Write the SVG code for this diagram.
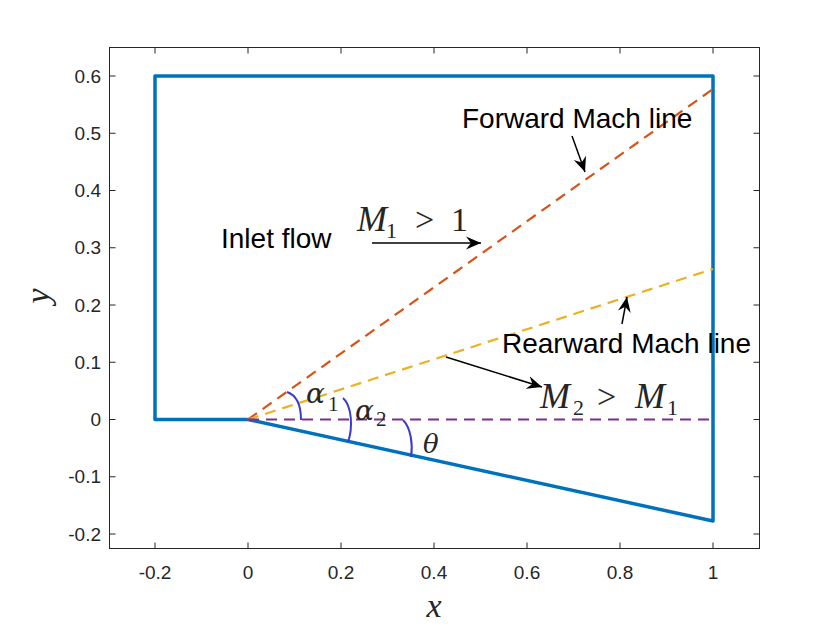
<svg xmlns="http://www.w3.org/2000/svg" width="840" height="630" viewBox="0 0 840 630">
<defs>
<style>
.ax{fill:none;stroke:#262626;stroke-width:1}
.tk{font-family:"Liberation Sans",Arial,sans-serif;font-size:19px;fill:#262626}
.lbl{font-family:"Liberation Sans",Arial,sans-serif;font-size:28px;fill:#000}
.mi{font-family:"Liberation Serif","Times New Roman",serif;font-style:italic;fill:#262626}
.gr{font-family:"DejaVu Serif",serif;font-style:italic;fill:#262626}
.mu{font-family:"Liberation Serif","Times New Roman",serif;fill:#262626}
.dash{fill:none;stroke-width:2.2;stroke-dasharray:11 7}
.arc{fill:none;stroke:#3b3bd0;stroke-width:2}
.arr{fill:none;stroke:#000;stroke-width:1.5;marker-end:url(#head)}
</style>
<marker id="head" markerUnits="userSpaceOnUse" markerWidth="16" markerHeight="14" refX="15" refY="6.5" orient="auto" viewBox="0 0 16 13">
<path d="M0,0 L15,6.5 L0,13 L5,6.5 Z" fill="#000"/>
</marker>
</defs>
<rect width="840" height="630" fill="#fff"/>
<g id="axes">
<rect class="ax" x="109.5" y="47.5" width="650" height="501"/>
<path class="ax" d="M155,548.5v-6M248,548.5v-6M341,548.5v-6M434,548.5v-6M527,548.5v-6M620,548.5v-6M713,548.5v-6M155,47.5v6M248,47.5v6M341,47.5v6M434,47.5v6M527,47.5v6M620,47.5v6M713,47.5v6"/>
<path class="ax" d="M109.5,534h6M109.5,476.75h6M109.5,419.5h6M109.5,362.25h6M109.5,305h6M109.5,247.75h6M109.5,190.5h6M109.5,133.25h6M109.5,76h6M759.5,534h-6M759.5,476.75h-6M759.5,419.5h-6M759.5,362.25h-6M759.5,305h-6M759.5,247.75h-6M759.5,190.5h-6M759.5,133.25h-6M759.5,76h-6"/>
<g class="tk" text-anchor="middle">
<text x="155" y="579">-0.2</text><text x="248" y="579">0</text><text x="341" y="579">0.2</text><text x="434" y="579">0.4</text><text x="527" y="579">0.6</text><text x="620" y="579">0.8</text><text x="713" y="579">1</text>
</g>
<g class="tk" text-anchor="end">
<text x="101" y="540.5">-0.2</text><text x="101" y="483.25">-0.1</text><text x="101" y="426">0</text><text x="101" y="368.75">0.1</text><text x="101" y="311.5">0.2</text><text x="101" y="254.25">0.3</text><text x="101" y="197">0.4</text><text x="101" y="139.75">0.5</text><text x="101" y="82.5">0.6</text>
</g>
<text class="mi" x="434" y="617" font-size="34" text-anchor="middle">x</text>
<text class="mi" font-size="34" text-anchor="middle" transform="translate(49,296) rotate(-90)">y</text>
</g>
<g id="boundary">
<path d="M155,76 H713 V521 L248,419.5 H155 Z" fill="none" stroke="#0072BD" stroke-width="3.5" stroke-linejoin="round"/>
</g>
<g id="lines">
<line class="dash" x1="248" y1="419.5" x2="713" y2="89" stroke="#D95319"/>
<line class="dash" x1="248" y1="419.5" x2="713" y2="269" stroke="#EDB120"/>
<line class="dash" x1="248" y1="419.5" x2="713" y2="419.5" stroke="#7E2F8E"/>
</g>
<g id="angles">
<path class="arc" d="M287,392 C296,395 301,404 301,420"/>
<path class="arc" d="M343,398 C352,406 353,428 348,442"/>
<path class="arc" d="M403,420 C411,428 413,445 411,457"/>
<text class="gr" x="306" y="403" font-size="28">α</text><text class="mu" x="328" y="411" font-size="21">1</text>
<text class="gr" x="355" y="420" font-size="28">α</text><text class="mu" x="376" y="426" font-size="21">2</text>
<text class="gr" x="423" y="453" font-size="26">θ</text>
</g>
<g id="labels">
<text class="lbl" x="221" y="248" font-size="26">Inlet flow</text>
<text class="lbl" x="462" y="128">Forward Mach line</text>
<text class="lbl" x="502" y="353">Rearward Mach line</text>
<text class="mi" x="357" y="231" font-size="36">M</text><text class="mu" x="386" y="238" font-size="22">1</text><text class="mu" x="415" y="231" font-size="34">&gt;</text><text class="mu" x="451" y="231" font-size="34">1</text>
<text class="mi" x="540" y="408" font-size="36">M</text><text class="mu" x="573" y="415" font-size="22">2</text><text class="mu" x="597" y="408" font-size="34">&gt;</text><text class="mi" x="635" y="408" font-size="36">M</text><text class="mu" x="667" y="415" font-size="22">1</text>
</g>
<g id="connectors">
<line class="arr" x1="572" y1="136" x2="585" y2="172"/>
<line class="arr" x1="372" y1="243" x2="481" y2="243" stroke-width="3"/>
<line class="arr" x1="622" y1="324" x2="627" y2="297"/>
<line class="arr" x1="446" y1="357" x2="542" y2="387"/>
</g>
</svg>
